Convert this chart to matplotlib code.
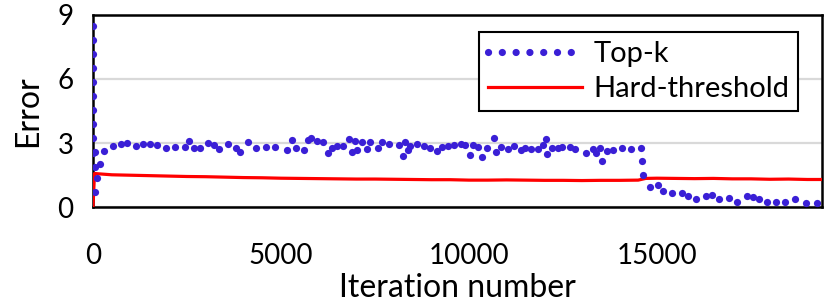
import matplotlib
matplotlib.use("Agg")
import matplotlib.pyplot as plt
from matplotlib.lines import Line2D

# ==================== Data ====================

# Top-k: one dot per sample (iteration, error)
topk_iter = [10, 10, 10, 10, 10, 10, 10, 10, 10, 10,
             45, 45, 115, 60, 195, 290, 530, 735, 910, 1150,
             1330, 1510, 1700, 1935, 2175, 2440, 2555, 2685, 2855, 3060,
             3210, 3345, 3590, 3795, 3920, 4125, 4345, 4595, 4850, 5150,
             5300, 5390, 5615, 5725, 5800, 5950, 6125, 6260, 6350, 6480,
             6640, 6810, 6900, 6970, 7030, 7165, 7280, 7370, 7575, 7695,
             7880, 8150, 8255, 8300, 8385, 8430, 8610, 8805, 8965, 9160,
             9290, 9450, 9610, 9780, 9895, 10030, 10115, 10250, 10340, 10490,
             10675, 10720, 10855, 11030, 11205, 11385, 11490, 11650, 11830, 11980,
             12050, 12085, 12220, 12375, 12470, 12690, 12820, 13115, 13290, 13370,
             13490, 13530, 13680, 13840, 14080, 14305, 14575, 14610, 14640, 14815,
             15035, 15155, 15395, 15660, 15820, 16040, 16300, 16460, 16660, 16925,
             17140, 17390, 17565, 17725, 17920, 18170, 18410, 18675, 18965, 19250]
topk_err = [8.48, 7.83, 7.17, 6.52, 5.86, 5.20, 4.55, 3.88, 3.22, 2.55,
            1.89, 2.59, 1.34, 0.72, 2.02, 2.64, 2.86, 2.95, 2.98, 2.86,
            2.94, 2.94, 2.91, 2.78, 2.83, 2.80, 3.11, 2.78, 2.78, 2.98,
            2.91, 2.70, 2.94, 2.78, 2.59, 3.06, 2.78, 2.83, 2.80, 2.67,
            3.14, 2.78, 2.67, 3.14, 3.25, 3.09, 3.06, 2.52, 2.78, 2.86,
            2.86, 3.17, 2.59, 3.09, 2.67, 3.06, 2.72, 3.03, 2.78, 3.03,
            2.94, 2.91, 2.41, 3.06, 2.67, 2.86, 2.95, 2.86, 2.75, 2.63,
            2.83, 2.86, 2.91, 2.94, 2.91, 2.44, 2.91, 2.83, 2.33, 2.78,
            3.22, 2.56, 2.83, 2.70, 2.86, 2.67, 2.78, 2.72, 2.70, 2.91,
            3.17, 2.48, 2.78, 2.75, 2.83, 2.83, 2.70, 2.52, 2.72, 2.52,
            2.75, 2.17, 2.63, 2.67, 2.78, 2.72, 2.78, 2.16, 1.50, 0.92,
            1.03, 0.75, 0.67, 0.64, 0.52, 0.37, 0.52, 0.56, 0.37, 0.44,
            0.22, 0.52, 0.47, 0.37, 0.22, 0.25, 0.25, 0.37, 0.17, 0.17]

# Hard-threshold: continuous line
hard_iter = [0, 40, 500, 1000, 1500, 2000, 2500, 3000, 3500, 4000,
             4500, 5000, 5500, 6000, 6500, 7000, 7500, 8000, 8500,
             9000, 9500, 10000, 10500, 11000, 11500, 12000, 12500, 13000, 13500,
             14000, 14500, 14700, 15000, 15500, 16000, 16500, 17000, 17500, 18000,
             18500, 19000, 19400]
hard_err = [0.00, 1.57, 1.51, 1.49, 1.47, 1.45, 1.43, 1.42, 1.40, 1.38,
            1.37, 1.35, 1.34, 1.33, 1.32, 1.31, 1.31, 1.30, 1.29,
            1.28, 1.28, 1.26, 1.26, 1.27, 1.26, 1.25, 1.25, 1.24, 1.25,
            1.25, 1.26, 1.34, 1.35, 1.34, 1.33, 1.34, 1.32, 1.32, 1.30,
            1.31, 1.29, 1.29]

x_ticks = [0, 5000, 10000, 15000]
y_ticks = [0, 3, 6, 9]

BLUE = "#3A1FD6"
RED = "#FF0000"

# ==================== Plot ====================

plt.rcParams["font.family"] = ["Lato", "DejaVu Sans"]

fig = plt.figure(figsize=(8.31, 3.06), dpi=100)
ax = fig.add_axes([0.1119, 0.3235, 0.8773, 0.6275])

ax.plot(hard_iter, hard_err, color=RED, linewidth=2.3, zorder=3)
ax.plot(topk_iter, topk_err, linestyle="none", marker="o", markersize=5.2,
        color=BLUE, markeredgewidth=0, zorder=4, clip_on=True)

ax.set_xlim(0, 19390)
ax.set_ylim(0, 9)
ax.set_xticks(x_ticks)
ax.set_yticks(y_ticks)
ax.tick_params(length=0, labelsize=20)
ax.tick_params(axis="x", pad=26)
ax.tick_params(axis="y", pad=14)

ax.grid(axis="y", color="#d9d9d9", linewidth=1.6)
ax.set_axisbelow(True)
for s in ax.spines.values():
    s.set_linewidth(1.8)
    s.set_color("black")

ax.set_xlabel("Iteration number", fontsize=23, labelpad=3)
ax.set_ylabel("Error", fontsize=23, labelpad=10)

handles = [
    Line2D([], [], color=BLUE, linewidth=5.2, linestyle=(0, (0.01, 1.9)),
           dash_capstyle="round"),
    Line2D([], [], color=RED, linewidth=2.3),
]
leg = ax.legend(handles, ["Top-k", "Hard-threshold"], loc="upper right",
                bbox_to_anchor=(0.967, 0.91), borderaxespad=0, fontsize=21,
                handlelength=3.2, handletextpad=0.4, labelspacing=0.3,
                borderpad=0.3, fancybox=False, framealpha=1)
leg.get_frame().set_edgecolor("black")
leg.get_frame().set_linewidth(1.5)

fig.savefig("out.png", dpi=100)
